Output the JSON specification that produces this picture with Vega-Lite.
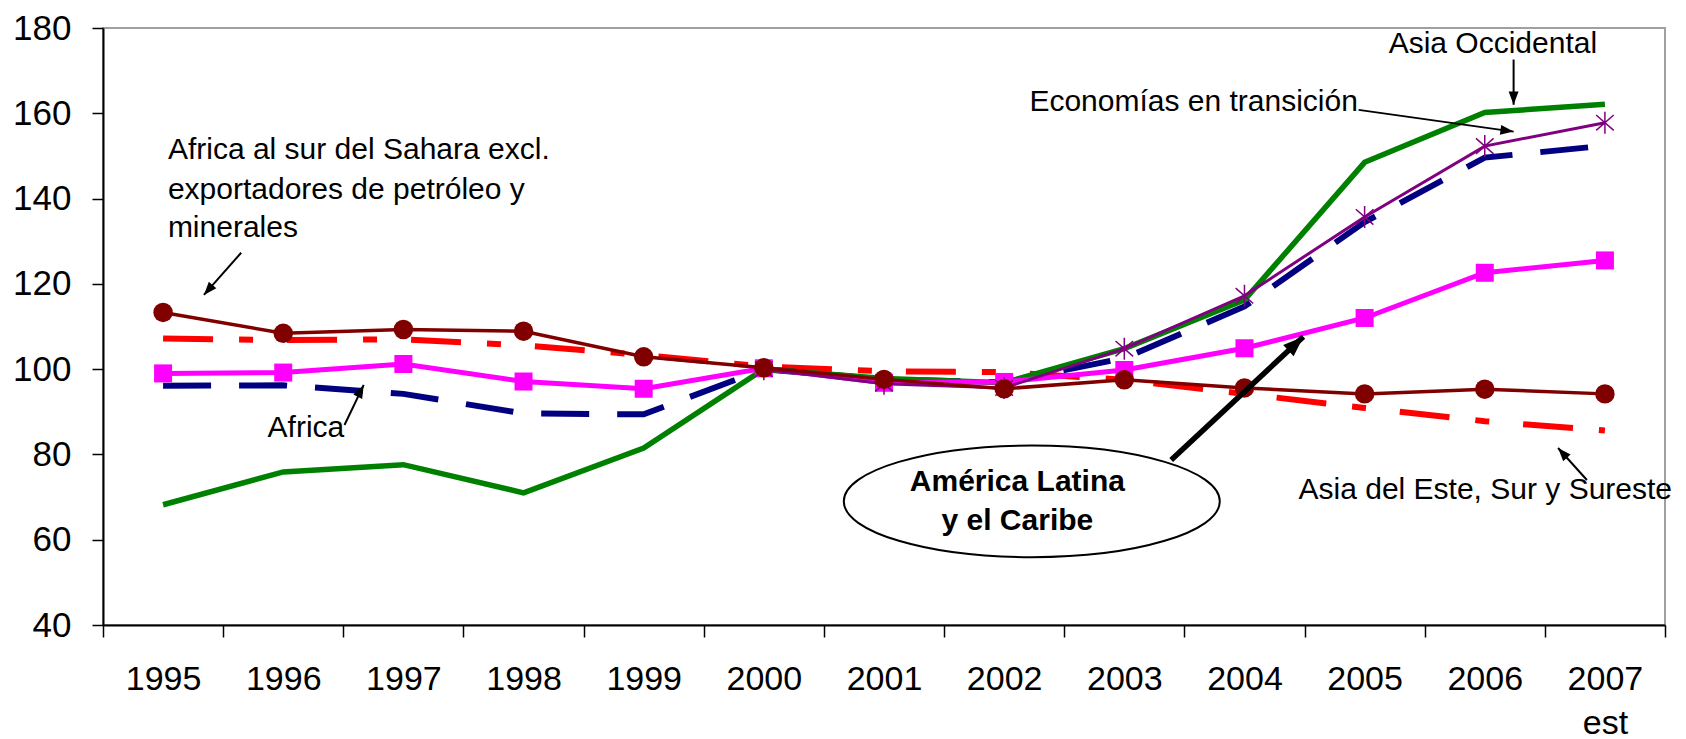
{
  "$schema": "https://vega.github.io/schema/vega-lite/v6.json",
  "width": 1562,
  "height": 597,
  "autosize": "none",
  "padding": {"left": 103, "top": 28, "right": 21, "bottom": 114},
  "background": "white",
  "config": {
    "view": {"stroke": "#a0a0a0", "strokeWidth": 2},
    "axis": {"labelFont": "Liberation Sans", "labelColor": "#000", "grid": false, "title": null},
    "text": {"font": "Liberation Sans"}
  },
  "datasets": {
    "series": [
      {"year": 1995, "series": "Asia Occidental", "value": 68.2},
      {"year": 1996, "series": "Asia Occidental", "value": 75.9},
      {"year": 1997, "series": "Asia Occidental", "value": 77.6},
      {"year": 1998, "series": "Asia Occidental", "value": 71.0},
      {"year": 1999, "series": "Asia Occidental", "value": 81.5},
      {"year": 2000, "series": "Asia Occidental", "value": 100},
      {"year": 2001, "series": "Asia Occidental", "value": 97.8},
      {"year": 2002, "series": "Asia Occidental", "value": 96.8},
      {"year": 2003, "series": "Asia Occidental", "value": 104.8},
      {"year": 2004, "series": "Asia Occidental", "value": 116.2},
      {"year": 2005, "series": "Asia Occidental", "value": 148.5},
      {"year": 2006, "series": "Asia Occidental", "value": 160.2},
      {"year": 2007, "series": "Asia Occidental", "value": 162.1},
      {"year": 2000, "series": "Economías en transición", "value": 100},
      {"year": 2001, "series": "Economías en transición", "value": 96.6},
      {"year": 2002, "series": "Economías en transición", "value": 95.6},
      {"year": 2003, "series": "Economías en transición", "value": 104.8},
      {"year": 2004, "series": "Economías en transición", "value": 117.2},
      {"year": 2005, "series": "Economías en transición", "value": 135.7},
      {"year": 2006, "series": "Economías en transición", "value": 152.3},
      {"year": 2007, "series": "Economías en transición", "value": 157.8},
      {"year": 1995, "series": "Africa", "value": 96.1},
      {"year": 1996, "series": "Africa", "value": 96.2},
      {"year": 1997, "series": "Africa", "value": 94.2},
      {"year": 1998, "series": "Africa", "value": 89.6},
      {"year": 1999, "series": "Africa", "value": 89.4},
      {"year": 2000, "series": "Africa", "value": 100},
      {"year": 2001, "series": "Africa", "value": 97.6},
      {"year": 2002, "series": "Africa", "value": 96.9},
      {"year": 2003, "series": "Africa", "value": 102.6},
      {"year": 2004, "series": "Africa", "value": 114.7},
      {"year": 2005, "series": "Africa", "value": 134.5},
      {"year": 2006, "series": "Africa", "value": 149.6},
      {"year": 2007, "series": "Africa", "value": 152.4},
      {"year": 1995, "series": "Asia del Este, Sur y Sureste", "value": 107.2},
      {"year": 1996, "series": "Asia del Este, Sur y Sureste", "value": 106.8},
      {"year": 1997, "series": "Asia del Este, Sur y Sureste", "value": 107.0},
      {"year": 1998, "series": "Asia del Este, Sur y Sureste", "value": 105.6},
      {"year": 1999, "series": "Asia del Este, Sur y Sureste", "value": 103.3},
      {"year": 2000, "series": "Asia del Este, Sur y Sureste", "value": 100.6},
      {"year": 2001, "series": "Asia del Este, Sur y Sureste", "value": 99.5},
      {"year": 2002, "series": "Asia del Este, Sur y Sureste", "value": 99.3},
      {"year": 2003, "series": "Asia del Este, Sur y Sureste", "value": 97.5},
      {"year": 2004, "series": "Asia del Este, Sur y Sureste", "value": 94.2},
      {"year": 2005, "series": "Asia del Este, Sur y Sureste", "value": 90.9},
      {"year": 2006, "series": "Asia del Este, Sur y Sureste", "value": 87.8},
      {"year": 2007, "series": "Asia del Este, Sur y Sureste", "value": 85.6},
      {"year": 1995, "series": "América Latina y el Caribe", "value": 99.0},
      {"year": 1996, "series": "América Latina y el Caribe", "value": 99.2},
      {"year": 1997, "series": "América Latina y el Caribe", "value": 101.2},
      {"year": 1998, "series": "América Latina y el Caribe", "value": 97.1},
      {"year": 1999, "series": "América Latina y el Caribe", "value": 95.4},
      {"year": 2000, "series": "América Latina y el Caribe", "value": 100.2},
      {"year": 2001, "series": "América Latina y el Caribe", "value": 96.8},
      {"year": 2002, "series": "América Latina y el Caribe", "value": 97.0},
      {"year": 2003, "series": "América Latina y el Caribe", "value": 99.8},
      {"year": 2004, "series": "América Latina y el Caribe", "value": 104.9},
      {"year": 2005, "series": "América Latina y el Caribe", "value": 112.0},
      {"year": 2006, "series": "América Latina y el Caribe", "value": 122.6},
      {"year": 2007, "series": "América Latina y el Caribe", "value": 125.5},
      {"year": 1995, "series": "Africa al sur del Sahara excl. exportadores de petróleo y minerales", "value": 113.3},
      {"year": 1996, "series": "Africa al sur del Sahara excl. exportadores de petróleo y minerales", "value": 108.4},
      {"year": 1997, "series": "Africa al sur del Sahara excl. exportadores de petróleo y minerales", "value": 109.3},
      {"year": 1998, "series": "Africa al sur del Sahara excl. exportadores de petróleo y minerales", "value": 108.9},
      {"year": 1999, "series": "Africa al sur del Sahara excl. exportadores de petróleo y minerales", "value": 102.9},
      {"year": 2000, "series": "Africa al sur del Sahara excl. exportadores de petróleo y minerales", "value": 100.3},
      {"year": 2001, "series": "Africa al sur del Sahara excl. exportadores de petróleo y minerales", "value": 97.6},
      {"year": 2002, "series": "Africa al sur del Sahara excl. exportadores de petróleo y minerales", "value": 95.4},
      {"year": 2003, "series": "Africa al sur del Sahara excl. exportadores de petróleo y minerales", "value": 97.5},
      {"year": 2004, "series": "Africa al sur del Sahara excl. exportadores de petróleo y minerales", "value": 95.6},
      {"year": 2005, "series": "Africa al sur del Sahara excl. exportadores de petróleo y minerales", "value": 94.2},
      {"year": 2006, "series": "Africa al sur del Sahara excl. exportadores de petróleo y minerales", "value": 95.3},
      {"year": 2007, "series": "Africa al sur del Sahara excl. exportadores de petróleo y minerales", "value": 94.2}
    ],
    "labels": [
      {"x": 1995.04, "y": 151.3, "text": "Africa al sur del Sahara excl."},
      {"x": 1995.04, "y": 142.1, "text": "exportadores de petróleo y"},
      {"x": 1995.04, "y": 133.1, "text": "minerales"},
      {"x": 1995.87, "y": 86.3, "text": "Africa"},
      {"x": 2002.21, "y": 162.6, "text": "Economías en transición"},
      {"x": 2005.2, "y": 176.3, "text": "Asia Occidental"},
      {"x": 2004.45, "y": 71.7, "text": "Asia del Este, Sur y Sureste"}
    ],
    "boldLabels": [
      {"x": 2002.11, "y": 73.6, "text": "América Latina"},
      {"x": 2002.11, "y": 64.4, "text": "y el Caribe"}
    ],
    "ellipse": [{"x": 2002.23, "y": 69.0}],
    "arrows": [
      {"xa": 1995.65, "ya": 127.3, "xb": 1995.34, "yb": 117.4, "heading": 221, "kind": "thin"},
      {"xa": 1996.51, "ya": 86.9, "xb": 1996.67, "yb": 96.3, "heading": 27, "kind": "thin"},
      {"xa": 2004.95, "ya": 160.8, "xb": 2006.24, "yb": 155.7, "heading": 98, "kind": "thin"},
      {"xa": 2006.24, "ya": 172.6, "xb": 2006.24, "yb": 162.0, "heading": 180, "kind": "thin"},
      {"xa": 2003.39, "ya": 78.7, "xb": 2004.49, "yb": 107.6, "heading": 47, "kind": "thick"},
      {"xa": 2006.85, "ya": 74.0, "xb": 2006.61, "yb": 81.5, "heading": 318, "kind": "thin"}
    ]
  },
  "resolve": {"axis": {"x": "independent", "y": "independent"}},
  "layer": [
    {
      "data": {"name": "series"},
      "transform": [{"filter": "datum.series == 'Asia del Este, Sur y Sureste'"}],
      "mark": {"type": "line", "color": "#ff0000", "strokeWidth": 6, "strokeDash": [50, 26, 14, 34], "strokeCap": "butt"},
      "encoding": {
        "x": {"field": "year", "type": "quantitative", "scale": {"domain": [1994.5, 2007.5], "nice": false, "zero": false},
          "axis": {"orient": "bottom", "values": [1995, 1996, 1997, 1998, 1999, 2000, 2001, 2002, 2003, 2004, 2005, 2006, 2007], "format": "d",
            "labelExpr": "datum.value == 2007 ? ['2007', 'est'] : datum.label",
            "ticks": true, "tickOpacity": 0, "tickSize": 12, "labelPadding": 25, "labelFontSize": 34, "labelLineHeight": 44,
            "domain": true, "domainColor": "#000", "domainWidth": 2, "labelOverlap": false, "labelBound": false, "labelFlush": false, "title": null}},
        "y": {"field": "value", "type": "quantitative", "scale": {"domain": [40, 180], "nice": false, "zero": false},
          "axis": {"orient": "left", "values": [40, 60, 80, 100, 120, 140, 160, 180], "tickSize": 11, "tickColor": "#000", "tickWidth": 1.5, "labelPadding": 21, "labelFontSize": 35,
            "domain": true, "domainColor": "#000", "domainWidth": 2, "labelOverlap": false, "labelBound": false, "labelFlush": false, "title": null}}
      }
    },
    {
      "data": {"name": "series"},
      "transform": [{"filter": "datum.series == 'Africa'"}],
      "mark": {"type": "line", "color": "#000080", "strokeWidth": 6, "strokeDash": [48, 28], "strokeCap": "butt"},
      "encoding": {
        "x": {"field": "year", "type": "quantitative", "scale": {"domain": [1994.5, 2007.5], "nice": false, "zero": false},
          "axis": {"orient": "bottom", "values": [1994.5, 1995.5, 1996.5, 1997.5, 1998.5, 1999.5, 2000.5, 2001.5, 2002.5, 2003.5, 2004.5, 2005.5, 2006.5, 2007.5],
            "labels": false, "ticks": true, "tickSize": 12, "tickColor": "#000", "tickWidth": 1.5, "domain": false, "title": null}},
        "y": {"field": "value", "type": "quantitative", "scale": {"domain": [40, 180], "nice": false, "zero": false}, "axis": null}
      }
    },
    {
      "data": {"name": "series"},
      "transform": [{"filter": "datum.series == 'Asia Occidental'"}],
      "mark": {"type": "line", "color": "#008000", "strokeWidth": 5.5},
      "encoding": {
        "x": {"field": "year", "type": "quantitative", "scale": {"domain": [1994.5, 2007.5], "nice": false, "zero": false}, "axis": null},
        "y": {"field": "value", "type": "quantitative", "scale": {"domain": [40, 180], "nice": false, "zero": false}, "axis": null}
      }
    },
    {
      "data": {"name": "series"},
      "transform": [{"filter": "datum.series == 'América Latina y el Caribe'"}],
      "mark": {"type": "line", "color": "#ff00ff", "strokeWidth": 5},
      "encoding": {
        "x": {"field": "year", "type": "quantitative", "scale": {"domain": [1994.5, 2007.5], "nice": false, "zero": false}, "axis": null},
        "y": {"field": "value", "type": "quantitative", "scale": {"domain": [40, 180], "nice": false, "zero": false}, "axis": null}
      }
    },
    {
      "data": {"name": "series"},
      "transform": [{"filter": "datum.series == 'América Latina y el Caribe'"}],
      "mark": {"type": "point", "shape": "square", "filled": true, "color": "#ff00ff", "size": 324, "opacity": 1},
      "encoding": {
        "x": {"field": "year", "type": "quantitative", "scale": {"domain": [1994.5, 2007.5], "nice": false, "zero": false}, "axis": null},
        "y": {"field": "value", "type": "quantitative", "scale": {"domain": [40, 180], "nice": false, "zero": false}, "axis": null}
      }
    },
    {
      "data": {"name": "series"},
      "transform": [{"filter": "datum.series == 'Economías en transición'"}],
      "mark": {"type": "line", "color": "#800080", "strokeWidth": 3},
      "encoding": {
        "x": {"field": "year", "type": "quantitative", "scale": {"domain": [1994.5, 2007.5], "nice": false, "zero": false}, "axis": null},
        "y": {"field": "value", "type": "quantitative", "scale": {"domain": [40, 180], "nice": false, "zero": false}, "axis": null}
      }
    },
    {
      "data": {"name": "series"},
      "transform": [{"filter": "datum.series == 'Economías en transición'"}],
      "mark": {"type": "point", "shape": "M0,-1L0,1M-0.8,-0.7L0.8,0.7M-0.8,0.7L0.8,-0.7", "filled": false, "color": "#800080", "strokeWidth": 1.5, "size": 484, "opacity": 1},
      "encoding": {
        "x": {"field": "year", "type": "quantitative", "scale": {"domain": [1994.5, 2007.5], "nice": false, "zero": false}, "axis": null},
        "y": {"field": "value", "type": "quantitative", "scale": {"domain": [40, 180], "nice": false, "zero": false}, "axis": null}
      }
    },
    {
      "data": {"name": "series"},
      "transform": [{"filter": "datum.series == 'Africa al sur del Sahara excl. exportadores de petróleo y minerales'"}],
      "mark": {"type": "line", "color": "#800000", "strokeWidth": 3.5},
      "encoding": {
        "x": {"field": "year", "type": "quantitative", "scale": {"domain": [1994.5, 2007.5], "nice": false, "zero": false}, "axis": null},
        "y": {"field": "value", "type": "quantitative", "scale": {"domain": [40, 180], "nice": false, "zero": false}, "axis": null}
      }
    },
    {
      "data": {"name": "series"},
      "transform": [{"filter": "datum.series == 'Africa al sur del Sahara excl. exportadores de petróleo y minerales'"}],
      "mark": {"type": "point", "shape": "circle", "filled": true, "color": "#800000", "size": 380, "opacity": 1},
      "encoding": {
        "x": {"field": "year", "type": "quantitative", "scale": {"domain": [1994.5, 2007.5], "nice": false, "zero": false}, "axis": null},
        "y": {"field": "value", "type": "quantitative", "scale": {"domain": [40, 180], "nice": false, "zero": false}, "axis": null}
      }
    },
    {
      "data": {"name": "ellipse"},
      "mark": {"type": "point", "shape": "M-1,0C-1,-0.164,-0.552,-0.297,0,-0.297C0.552,-0.297,1,-0.164,1,0C1,0.164,0.552,0.297,0,0.297C-0.552,0.297,-1,0.164,-1,0Z", "filled": false, "color": "#000", "strokeWidth": 2, "size": 141376, "opacity": 1},
      "encoding": {
        "x": {"field": "x", "type": "quantitative", "scale": {"domain": [1994.5, 2007.5], "nice": false, "zero": false}, "axis": null},
        "y": {"field": "y", "type": "quantitative", "scale": {"domain": [40, 180], "nice": false, "zero": false}, "axis": null}
      }
    },
    {
      "data": {"name": "arrows"},
      "transform": [{"filter": "datum.kind == 'thin'"}],
      "mark": {"type": "rule", "color": "#000", "strokeWidth": 2},
      "encoding": {
        "x": {"field": "xa", "type": "quantitative", "scale": {"domain": [1994.5, 2007.5], "nice": false, "zero": false}, "axis": null},
        "y": {"field": "ya", "type": "quantitative", "scale": {"domain": [40, 180], "nice": false, "zero": false}, "axis": null},
        "x2": {"field": "xb"},
        "y2": {"field": "yb"}
      }
    },
    {
      "data": {"name": "arrows"},
      "transform": [{"filter": "datum.kind == 'thick'"}],
      "mark": {"type": "rule", "color": "#000", "strokeWidth": 5.5},
      "encoding": {
        "x": {"field": "xa", "type": "quantitative", "scale": {"domain": [1994.5, 2007.5], "nice": false, "zero": false}, "axis": null},
        "y": {"field": "ya", "type": "quantitative", "scale": {"domain": [40, 180], "nice": false, "zero": false}, "axis": null},
        "x2": {"field": "xb"},
        "y2": {"field": "yb"}
      }
    },
    {
      "data": {"name": "arrows"},
      "transform": [{"filter": "datum.kind == 'thin'"}],
      "mark": {"type": "point", "shape": "M0,0L-0.45,1.2L0.45,1.2Z", "filled": true, "color": "#000", "size": 484, "opacity": 1},
      "encoding": {
        "x": {"field": "xb", "type": "quantitative", "scale": {"domain": [1994.5, 2007.5], "nice": false, "zero": false}, "axis": null},
        "y": {"field": "yb", "type": "quantitative", "scale": {"domain": [40, 180], "nice": false, "zero": false}, "axis": null},
        "angle": {"field": "heading", "type": "quantitative", "scale": null}
      }
    },
    {
      "data": {"name": "arrows"},
      "transform": [{"filter": "datum.kind == 'thick'"}],
      "mark": {"type": "point", "shape": "M0,0L-0.45,1.2L0.45,1.2Z", "filled": true, "color": "#000", "size": 1156, "opacity": 1},
      "encoding": {
        "x": {"field": "xb", "type": "quantitative", "scale": {"domain": [1994.5, 2007.5], "nice": false, "zero": false}, "axis": null},
        "y": {"field": "yb", "type": "quantitative", "scale": {"domain": [40, 180], "nice": false, "zero": false}, "axis": null},
        "angle": {"field": "heading", "type": "quantitative", "scale": null}
      }
    },
    {
      "data": {"name": "labels"},
      "mark": {"type": "text", "align": "left", "baseline": "middle", "fontSize": 30, "color": "#000"},
      "encoding": {
        "x": {"field": "x", "type": "quantitative", "scale": {"domain": [1994.5, 2007.5], "nice": false, "zero": false}, "axis": null},
        "y": {"field": "y", "type": "quantitative", "scale": {"domain": [40, 180], "nice": false, "zero": false}, "axis": null},
        "text": {"field": "text"}
      }
    },
    {
      "data": {"name": "boldLabels"},
      "mark": {"type": "text", "align": "center", "baseline": "middle", "fontSize": 30, "fontWeight": "bold", "color": "#000"},
      "encoding": {
        "x": {"field": "x", "type": "quantitative", "scale": {"domain": [1994.5, 2007.5], "nice": false, "zero": false}, "axis": null},
        "y": {"field": "y", "type": "quantitative", "scale": {"domain": [40, 180], "nice": false, "zero": false}, "axis": null},
        "text": {"field": "text"}
      }
    }
  ]
}
